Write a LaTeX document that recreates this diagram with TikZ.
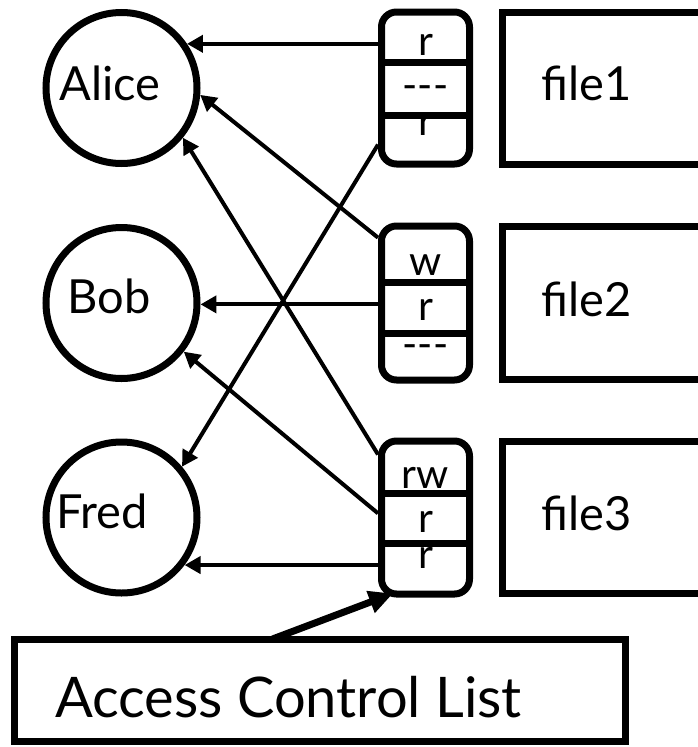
\documentclass[tikz,border=0pt]{standalone}
\usepackage{fontspec}
\setmainfont{Lato}
\usetikzlibrary{arrows.meta,calc}
\begin{document}
\begin{tikzpicture}[x=1pt,y=-1pt,
  person/.style={draw,circle,line width=7pt,minimum size=151pt,inner sep=0pt},
  aclbox/.style={draw,rectangle,rounded corners=15pt,line width=7pt,minimum width=88pt,inner sep=0pt},
  filebox/.style={draw,rectangle,line width=7pt,inner sep=0pt,minimum width=200pt,anchor=west},
  usertxt/.style={anchor=base,inner sep=0pt,font=\fontsize{47}{50}\selectfont},
  filetxt/.style={anchor=base west,inner sep=0pt,font=\fontsize{47}{50}\selectfont},
  permtxt/.style={anchor=base,inner sep=0pt,font=\fontsize{41}{44}\selectfont},
  divider/.style={line width=7pt},
  grant/.style={-{Triangle[length=16pt,width=17pt]},line width=4pt},
  pointer/.style={-{Triangle[length=24pt,width=22pt]},line width=7pt}
]
\clip (0,0) rectangle (698,747);

% files (their right sides run past the page edge)
\node[filebox,minimum height=152pt] (file1) at (499,88.5) {};
\node[filebox,minimum height=153pt] (file2) at (499,303) {};
\node[filebox,minimum height=152pt] (file3) at (499,517.5) {};
\node[filetxt] (file1txt) at (541,100) {file1};
\node[filetxt] (file2txt) at (541,316) {file2};
\node[filetxt] (file3txt) at (541,530) {file3};

% users
\node[person] (Alice) at (121.5,88) {};
\node[person] (Bob)   at (121.5,303) {};
\node[person] (Fred)  at (121.5,517.5) {};
\node[usertxt] (alicetxt) at (110,100) {Alice};
\node[usertxt] (bobtxt)   at (109,313) {Bob};
\node[usertxt] (fredtxt)  at (102,528) {Fred};

% access control lists, one per file
\node[aclbox,minimum height=152pt] (acl1) at (425.5,88) {};
\node[aclbox,minimum height=154pt] (acl2) at (425.5,303) {};
\node[aclbox,minimum height=153pt] (acl3) at (425.5,517.5) {};

\node[permtxt] (p11) at (425.5,55)  {r};
\node[permtxt] (p12) at (425.5,99)  {\hbox{-}\hbox{-}\hbox{-}};
\node[permtxt] (p13) at (425.5,135) {r};
\node[permtxt] (p21) at (425.5,275) {w};
\node[permtxt] (p22) at (425.5,320) {r};
\node[permtxt] (p23) at (425.5,358) {\hbox{-}\hbox{-}\hbox{-}};
\node[permtxt] (p31) at (425.5,488) {rw};
\node[permtxt] (p32) at (425.5,532) {r};
\node[permtxt] (p33) at (425.5,568) {r};

\foreach \a/\y in {acl1/62,acl1/115,acl2/282,acl2/333,acl3/493,acl3/543}
  \draw[divider] (\a.west |- 0,\y) -- (\a.east |- 0,\y);

% rights granted to users
\draw[grant] (acl1.west |- Alice.34) -- (Alice.34);
\draw[grant] (acl1.230) -- (Fred.40);
\draw[grant] (acl2.126) -- (Alice.-5);
\draw[grant] (acl2.west |- Bob.-1) -- (Bob.-1);
\draw[grant] (acl3.127) -- (Alice.-39.5);
\draw[grant] (acl3.175) -- (Bob.-38.5);
\draw[grant] (acl3.west |- Fred.-37) -- (Fred.-37);

% caption box
\node[draw,rectangle,line width=7pt,inner sep=0pt,minimum width=611pt,minimum height=102pt] (acllabel) at (319.5,690) {};
\node[anchor=base west,inner sep=0pt,font=\fontsize{56}{60}\selectfont] (acltxt) at (55,717) {Access Control List};
\draw[pointer] ($(acllabel.north west)!0.424!(acllabel.north east)+(0,3.5)$) -- ($(acl3.south west)+(15,-4)$);
\end{tikzpicture}
\end{document}
